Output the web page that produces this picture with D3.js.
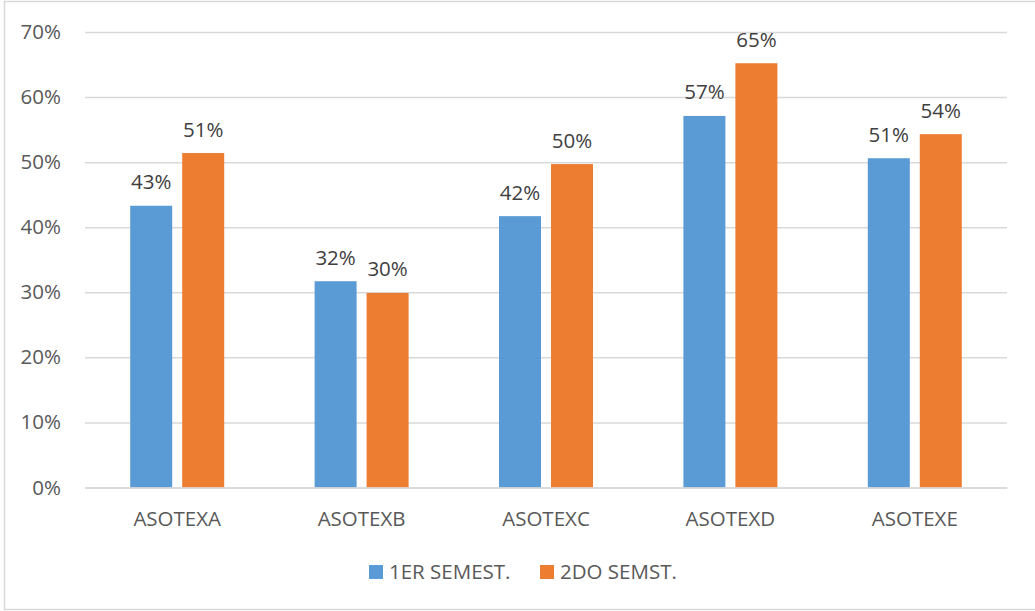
<!DOCTYPE html>
<html>
<head>
<meta charset="utf-8">
<script src="https://cdn.jsdelivr.net/npm/d3@7"></script>
<style>
  html, body { margin: 0; padding: 0; background: #fff; }
  svg { display: block; }
  text { font-family: "Open Sans", "Noto Sans", sans-serif; }
</style>
</head>
<body>
<svg id="chart" width="1035" height="611"></svg>
<script>
// Categories, series and values
const categories = ["ASOTEXA", "ASOTEXB", "ASOTEXC", "ASOTEXD", "ASOTEXE"];
const seriesNames = ["1ER SEMEST.", "2DO SEMST."];
const sem1Values = [0.433, 0.317, 0.417, 0.571, 0.506];
const sem2Values = [0.514, 0.299, 0.497, 0.652, 0.543];
const yTicks = [0, 0.1, 0.2, 0.3, 0.4, 0.5, 0.6, 0.7];
const colors = ["#5B9BD5", "#ED7D31"];

const seriesValues = [sem1Values, sem2Values];

const W = 1035, H = 611;
const plot = { left: 85, right: 1007, top: 32, bottom: 487.5 };
const fontSize = "20.5px";

const svg = d3.select("#chart");

// Chart frame
svg.append("rect")
  .attr("x", 4.5).attr("y", 1.5)
  .attr("width", W + 10).attr("height", 608)
  .attr("fill", "#fff")
  .attr("stroke", "#d9d9d9").attr("stroke-width", 1.5);

const y = d3.scaleLinear().domain([0, 0.7]).range([plot.bottom, plot.top]);
const x0 = d3.scaleBand().domain(categories).range([plot.left, plot.right]);
const groupW = 94;
const x1 = d3.scaleBand().domain(seriesNames)
  .range([0, groupW]).paddingInner(0.192).paddingOuter(0);

const fmt = d3.format(".0%");

// Gridlines and y tick labels
const yAxis = d3.axisLeft(y).tickValues(yTicks).tickFormat(fmt)
  .tickSize(-(plot.right - plot.left)).tickPadding(24);
const gy = svg.append("g")
  .attr("transform", `translate(${plot.left},0)`)
  .call(yAxis);
gy.select(".domain").remove();
gy.selectAll(".tick line").attr("stroke", "#d9d9d9").attr("stroke-width", 1.5);
gy.selectAll(".tick text")
  .attr("fill", "#595959")
  .style("font-size", fontSize)
  .style("font-family", "'Open Sans', sans-serif");

// Bars
const groups = svg.append("g").selectAll("g")
  .data(categories)
  .join("g")
  .attr("transform", d => `translate(${x0(d) + (x0.bandwidth() - groupW) / 2},0)`);

groups.selectAll("rect")
  .data((c, i) => seriesNames.map((s, k) => ({ s, k, v: seriesValues[k][i] })))
  .join("rect")
  .attr("x", d => x1(d.s))
  .attr("width", x1.bandwidth())
  .attr("y", d => y(d.v))
  .attr("height", d => y(0) - y(d.v))
  .attr("fill", d => colors[d.k]);

// Data labels
groups.selectAll("text.val")
  .data((c, i) => seriesNames.map((s, k) => ({ s, k, v: seriesValues[k][i] })))
  .join("text")
  .attr("class", "val")
  .attr("x", d => x1(d.s) + x1.bandwidth() / 2)
  .attr("y", d => y(d.v) - 16.5)
  .attr("text-anchor", "middle")
  .attr("fill", "#404040")
  .style("font-size", fontSize)
  .text(d => fmt(d.v));

// Category axis
const xAxis = d3.axisBottom(x0).tickSize(0).tickPadding(24);
const gx = svg.append("g")
  .attr("transform", `translate(0,${plot.bottom})`)
  .call(xAxis);
gx.select(".domain").attr("stroke", "#d9d9d9").attr("stroke-width", 1.5);
gx.selectAll(".tick text")
  .attr("fill", "#595959")
  .style("font-size", fontSize)
  .style("font-family", "'Open Sans', sans-serif");

// Legend
const legendX = [369, 540];
const legend = svg.append("g").selectAll("g")
  .data(seriesNames)
  .join("g")
  .attr("transform", (d, i) => `translate(${legendX[i]},565)`);
legend.append("rect")
  .attr("width", 14).attr("height", 14)
  .attr("fill", (d, i) => colors[i]);
legend.append("text")
  .attr("x", 20).attr("y", 7)
  .attr("dy", "0.35em")
  .attr("fill", "#595959")
  .style("font-size", fontSize)
  .text(d => d);
</script>
</body>
</html>
